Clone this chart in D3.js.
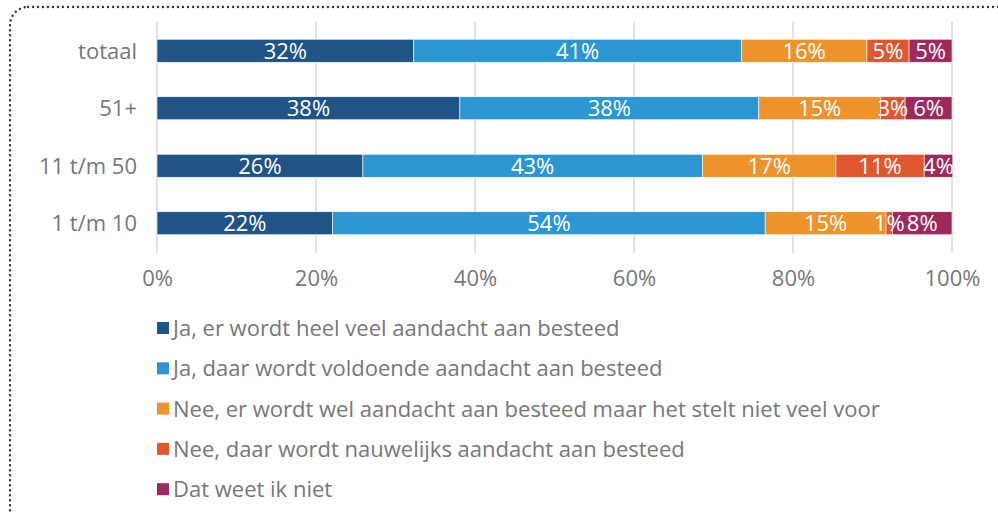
<!DOCTYPE html>
<html><head><meta charset="utf-8">
<script src="https://cdn.jsdelivr.net/npm/d3@7"></script>
<style>
html,body{margin:0;padding:0;background:#fff;}
svg{display:block;font-family:"Open Sans","Noto Sans",sans-serif;}
</style></head>
<body><svg id="c" width="998" height="513"></svg>
<script>
const categories = ["totaal", "51+", "11 t/m 50", "1 t/m 10"];
const seriesNames = [
  "Ja, er wordt heel veel aandacht aan besteed",
  "Ja, daar wordt voldoende aandacht aan besteed",
  "Nee, er wordt wel aandacht aan besteed maar het stelt niet veel voor",
  "Nee, daar wordt nauwelijks aandacht aan besteed",
  "Dat weet ik niet"
];
const seriesColors = ["#1f5485", "#2b96d2", "#ee922b", "#e0572f", "#9e2a5d"];
const heelVeel    = [32.3, 38.1, 25.9, 22.1];
const voldoende   = [41.2, 37.6, 42.7, 54.4];
const nietVeel    = [15.8, 15.3, 16.8, 15.2];
const nauwelijks  = [5.3, 3.1, 11.1, 0.8];
const weetNiet    = [5.4, 5.9, 3.6, 7.5];
const tickValues  = [0, 20, 40, 60, 80, 100];

const series = [heelVeel, voldoende, nietVeel, nauwelijks, weetNiet];
const rows = categories.map((c, i) => {
  const r = {cat: c};
  series.forEach((s, k) => r["s" + k] = s[i]);
  return r;
});
const keys = series.map((s, k) => "s" + k);
const stacked = d3.stack().keys(keys)(rows);

const svg = d3.select("#c");
const textColor = "#76777a";
const fs = 22;

// dotted rounded border
svg.append("rect")
  .attr("x", 10).attr("y", 7).attr("width", 1200).attr("height", 700)
  .attr("rx", 18).attr("ry", 18)
  .attr("fill", "none").attr("stroke", "#333").attr("stroke-width", 2.4)
  .attr("stroke-dasharray", "0 5").attr("stroke-linecap", "round");

const x = d3.scaleLinear().domain([0, 100]).range([157, 952]);
const y = d3.scaleBand().domain(categories).range([22, 252]).paddingInner(0.6).paddingOuter(0.3);

// gridlines
svg.append("g").selectAll("line").data(tickValues).join("line")
  .attr("x1", d => x(d)).attr("x2", d => x(d))
  .attr("y1", 22).attr("y2", 253)
  .attr("stroke", "#d9d9d9").attr("stroke-width", 1.5);

// bars
const g = svg.append("g");
stacked.forEach((layer, k) => {
  g.append("g").selectAll("rect").data(layer).join("rect")
    .attr("x", d => x(d[0])).attr("width", d => x(d[1]) - x(d[0]))
    .attr("y", d => y(d.data.cat)).attr("height", y.bandwidth())
    .attr("fill", seriesColors[k])
    .attr("stroke", "#fff").attr("stroke-width", 0.6);
});
stacked.forEach((layer, k) => {
  g.append("g").selectAll("text").data(layer).join("text")
    .attr("x", d => (x(d[0]) + x(d[1])) / 2)
    .attr("y", d => y(d.data.cat) + y.bandwidth() / 2)
    .attr("dy", "0.36em")
    .attr("text-anchor", "middle")
    .attr("fill", "#fff").attr("font-size", fs)
    .text(d => Math.round(d[1] - d[0]) + "%");
});

// category labels
svg.append("g").selectAll("text").data(categories).join("text")
  .attr("x", 137).attr("y", d => y(d) + y.bandwidth() / 2)
  .attr("dy", "0.36em").attr("text-anchor", "end")
  .attr("fill", textColor).attr("font-size", fs)
  .text(d => d);

// x axis
const ax = svg.append("g").attr("transform", "translate(0,267)")
  .call(d3.axisBottom(x).tickValues(tickValues).tickSize(0).tickFormat(d => d + "%"));
ax.select(".domain").remove();
ax.selectAll("text").attr("fill", textColor).attr("font-size", fs)
  .attr("font-family", "'Open Sans','Noto Sans',sans-serif").attr("dy", "0.71em");

// legend
const leg = svg.append("g").selectAll("g").data(seriesNames).join("g")
  .attr("transform", (d, i) => `translate(157,${328 + i * 40.3})`);
leg.append("rect").attr("x", 0).attr("y", -6).attr("width", 12).attr("height", 12)
  .attr("fill", (d, i) => seriesColors[i]);
leg.append("text").attr("x", 16).attr("y", 0).attr("dy", "0.36em")
  .attr("fill", textColor).attr("font-size", fs).text(d => d);
</script></body></html>
